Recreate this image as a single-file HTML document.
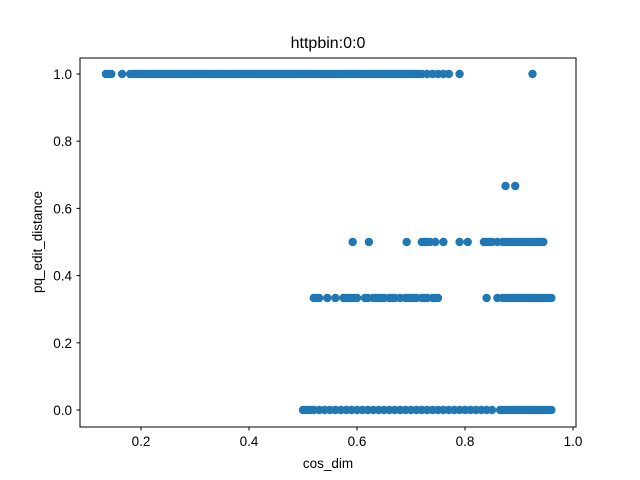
<!DOCTYPE html>
<html><head><meta charset="utf-8"><style>
body{margin:0;background:#fff;}
svg{display:block;font-family:"Liberation Sans","DejaVu Sans",sans-serif;}
</style></head><body>
<svg id="chart" width="640" height="480">
<rect x="0" y="0" width="640" height="480" fill="#fff"/>
<text x="328" y="48" text-anchor="middle" font-size="16">httpbin:0:0</text>
<g id="marks"></g>
<rect x="80" y="58" width="496" height="369" fill="none" stroke="#000" stroke-width="1"/>
<g id="xt"></g>
<g id="yt"></g>
<text x="328" y="468" text-anchor="middle" font-size="13.5">cos_dim</text>
<text transform="translate(42,242) rotate(-90)" text-anchor="middle" font-size="13.5">pq_edit_distance</text>
</svg>
<script>
const xTicks=[0.2,0.4,0.6,0.8,1.0];
const xTickLabels=["0.2","0.4","0.6","0.8","1.0"];
const yTicks=[0,0.2,0.4,0.6,0.8,1.0];
const yTickLabels=["0.0","0.2","0.4","0.6","0.8","1.0"];
const xOnes=[0.135,0.14,0.145,0.165,0.18,0.19,0.2,0.21,0.22,0.23,0.24,0.25,0.26,0.27,0.28,0.29,0.3,0.31,0.32,0.33,0.34,0.35,0.36,0.37,0.38,0.39,0.4,0.41,0.42,0.43,0.44,0.45,0.46,0.47,0.48,0.49,0.5,0.51,0.52,0.53,0.54,0.55,0.56,0.57,0.58,0.59,0.6,0.61,0.62,0.63,0.64,0.65,0.66,0.67,0.68,0.69,0.7,0.71,0.72,0.73,0.74,0.75,0.76,0.77,0.79,0.925,
0.185,0.195,0.205,0.215,0.225,0.235,0.245,0.255,0.265,0.275,0.285,0.295,0.305,0.315,0.325,0.335,0.345,0.355,0.365,0.375,0.385,0.395,0.405,0.415,0.425,0.435,0.445,0.455,0.465,0.475,0.485,0.495,0.505,0.515,0.525,0.535,0.545,0.555,0.565,0.575,0.585,0.595,0.605,0.615,0.625,0.635,0.645,0.655,0.665,0.675,0.685,0.695,0.705,0.715];
const xTwoThirds=[0.875,0.893];
const xHalf=[0.592,0.622,0.692,0.72,0.725,0.73,0.735,0.745,0.76,0.79,0.805,0.835,0.84,0.845,0.85,0.86,0.87,0.875,0.88,0.885,0.89,0.895,0.9,0.905,0.91,0.915,0.92,0.925,0.93,0.935,0.94,0.945];
const xThird=[0.52,0.525,0.53,0.545,0.56,0.575,0.58,0.585,0.59,0.595,0.6,0.615,0.62,0.63,0.635,0.64,0.645,0.65,0.66,0.665,0.67,0.68,0.69,0.695,0.7,0.705,0.71,0.72,0.725,0.73,0.74,0.745,0.75,0.84,0.86,0.87,0.875,0.88,0.885,0.89,0.895,0.9,0.905,0.91,0.915,0.92,0.925,0.93,0.935,0.94,0.945,0.95,0.955,0.96];
const xZero=[0.5,0.505,0.51,0.515,0.52,0.53,0.54,0.55,0.56,0.57,0.58,0.59,0.6,0.61,0.62,0.63,0.64,0.65,0.66,0.67,0.68,0.69,0.7,0.71,0.72,0.73,0.74,0.75,0.76,0.77,0.78,0.79,0.8,0.81,0.82,0.83,0.84,0.85,0.865,0.87,0.875,0.88,0.885,0.89,0.895,0.9,0.905,0.91,0.915,0.92,0.925,0.93,0.935,0.94,0.945,0.95,0.955,0.96];
const seriesX=[xOnes,xTwoThirds,xHalf,xThird,xZero];
const seriesY=[1.0,0.6667,0.5,0.3333,0.0];

const NS="http://www.w3.org/2000/svg";
function xs(v){return 33+v*540;}
function ys(v){return 410-v*336;}
const marks=document.getElementById('marks');
seriesX.forEach((arr,si)=>{arr.forEach(v=>{
  const c=document.createElementNS(NS,'circle');
  c.setAttribute('cx',xs(v));c.setAttribute('cy',ys(seriesY[si]));c.setAttribute('r',4.2);
  c.setAttribute('fill','#1f77b4');
  
  
  marks.appendChild(c);
});});
const xt=document.getElementById('xt');
xTicks.forEach((v,i)=>{
  const l=document.createElementNS(NS,'line');
  l.setAttribute('x1',xs(v));l.setAttribute('x2',xs(v));l.setAttribute('y1',427);l.setAttribute('y2',430.5);l.setAttribute('stroke','#000');
  
  
  xt.appendChild(l);
  const t=document.createElementNS(NS,'text');
  t.setAttribute('x',xs(v));t.setAttribute('y',446);t.setAttribute('text-anchor','middle');t.setAttribute('font-size','13.5');
  t.textContent=xTickLabels[i];
  
  
  xt.appendChild(t);
});
const yt=document.getElementById('yt');
yTicks.forEach((v,i)=>{
  const l=document.createElementNS(NS,'line');
  l.setAttribute('x1',76.5);l.setAttribute('x2',80);l.setAttribute('y1',ys(v));l.setAttribute('y2',ys(v));l.setAttribute('stroke','#000');
  
  
  yt.appendChild(l);
  const t=document.createElementNS(NS,'text');
  t.setAttribute('x',72);t.setAttribute('y',ys(v)+5);t.setAttribute('text-anchor','end');t.setAttribute('font-size','13.5');
  t.textContent=yTickLabels[i];
  
  
  yt.appendChild(t);
});
</script>
</body></html>
